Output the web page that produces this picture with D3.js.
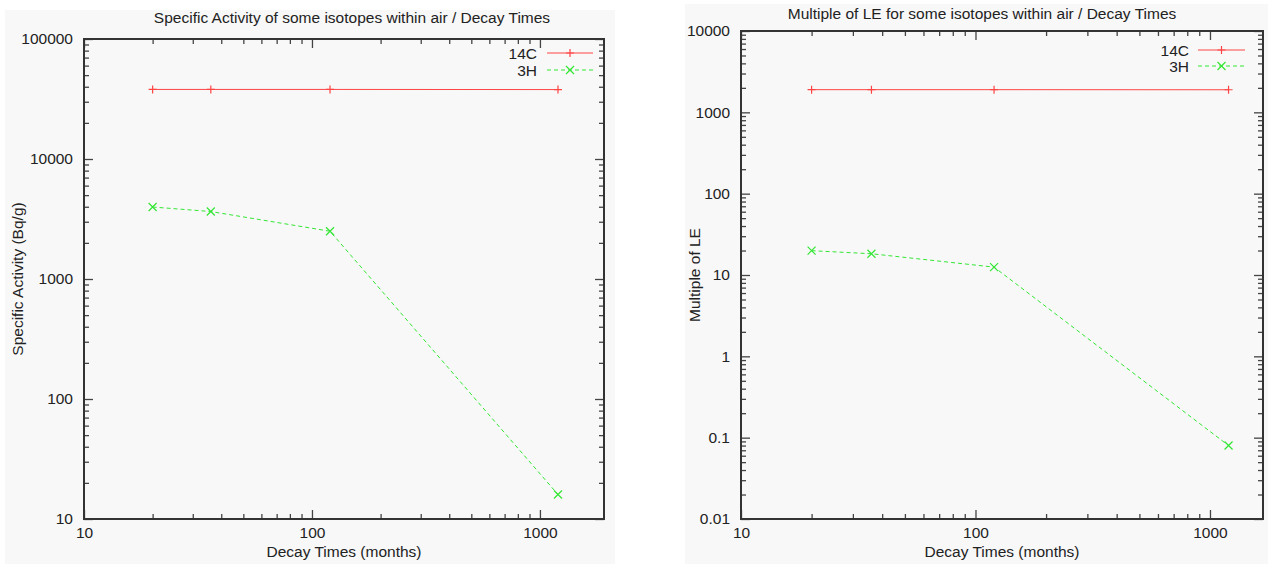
<!DOCTYPE html>
<html>
<head>
<meta charset="utf-8">
<script src="https://cdn.jsdelivr.net/npm/d3@7"></script>
<style>
  html, body { margin: 0; padding: 0; background: #ffffff; }
  svg text { font-family: "Liberation Sans", Arial, sans-serif; fill: #222; }
</style>
</head>
<body>
<div id="chart"></div>
<script>
// decay times in months (x values shared by both panels)
var decayMonths = [20, 36, 120, 1200];
var seriesNames = ['14C', '3H'];

// left panel: specific activity (Bq/g)
var activity14C = [38000, 38000, 38000, 37900];
var activity3H = [3980, 3650, 2500, 16];

// right panel: multiple of LE
var multiple14C = [1900, 1900, 1900, 1895];
var multiple3H = [19.9, 18.25, 12.5, 0.08];

var xTickValues = [10, 100, 1000];
var activityTicks = [10, 100, 1000, 10000, 100000];
var multipleTicks = [0.01, 0.1, 1, 10, 100, 1000, 10000];

var seriesColors = ['#ff4444', '#33e633'];
var fontSize = '15.5px';

var svg = d3.select('#chart')
    .append('svg')
    .attr('width', 1268)
    .attr('height', 564);

// minor ticks 2..9 for each decade between lo and hi
function minorTicks(lo, hi) {
    var out = [];
    for (var e = Math.floor(Math.log10(lo)); e < Math.ceil(Math.log10(hi)); e++) {
        for (var k = 2; k <= 9; k++) {
            var v = k * Math.pow(10, e);
            if (v > lo && v < hi) out.push(v);
        }
    }
    return out;
}

function fmt(v) {
    if (v >= 1) return d3.format('d')(v);
    return String(+v.toPrecision(2));
}

function drawPanel(p) {
    svg.append('rect')
        .attr('x', p.bg[0]).attr('y', p.bg[1])
        .attr('width', p.bg[2]).attr('height', p.bg[3])
        .attr('fill', '#f8f8f8');

    var w = p.right - p.left;
    var h = p.bottom - p.top;
    var g = svg.append('g').attr('transform', 'translate(' + p.left + ',' + p.top + ')');

    var x = d3.scaleLog().domain(p.xDomain).range([0, w]);
    var y = d3.scaleLog().domain(p.yDomain).range([h, 0]);

    var xMinor = minorTicks(p.xDomain[0], p.xDomain[1]);
    var yMinor = minorTicks(p.yDomain[0], p.yDomain[1]);

    function styleAxis(sel) {
        sel.select('.domain').remove();
        sel.selectAll('line').attr('stroke', '#444').attr('stroke-width', 1.3);
        sel.selectAll('text').style('font-size', fontSize).attr('fill', '#222');
    }

    // bottom + top ticks (inward)
    g.append('g').attr('transform', 'translate(0,' + h + ')')
        .call(d3.axisBottom(x).tickValues(xTickValues).tickSize(-9).tickPadding(8).tickFormat(fmt))
        .call(styleAxis);
    g.append('g').attr('transform', 'translate(0,' + h + ')')
        .call(d3.axisBottom(x).tickValues(xMinor).tickSize(-5).tickFormat(''))
        .call(styleAxis);
    g.append('g')
        .call(d3.axisTop(x).tickValues(xTickValues).tickSize(-9).tickFormat(''))
        .call(styleAxis);
    g.append('g')
        .call(d3.axisTop(x).tickValues(xMinor).tickSize(-5).tickFormat(''))
        .call(styleAxis);

    // left + right ticks (inward)
    g.append('g')
        .call(d3.axisLeft(y).tickValues(p.yTicks).tickSize(-9).tickPadding(11).tickFormat(fmt))
        .call(styleAxis);
    g.append('g')
        .call(d3.axisLeft(y).tickValues(yMinor).tickSize(-5).tickFormat(''))
        .call(styleAxis);
    g.append('g').attr('transform', 'translate(' + w + ',0)')
        .call(d3.axisRight(y).tickValues(p.yTicks).tickSize(-9).tickFormat(''))
        .call(styleAxis);
    g.append('g').attr('transform', 'translate(' + w + ',0)')
        .call(d3.axisRight(y).tickValues(yMinor).tickSize(-5).tickFormat(''))
        .call(styleAxis);

    // frame
    g.append('rect')
        .attr('width', w).attr('height', h)
        .attr('fill', 'none')
        .attr('stroke', '#333')
        .attr('stroke-width', 2);

    // series
    var line = d3.line()
        .x(function(d){ return x(d.x); })
        .y(function(d){ return y(d.y); });

    p.series.forEach(function(vals, si) {
        var pts = decayMonths.map(function(m, i){ return { x: m, y: vals[i] }; });
        var col = seriesColors[si];
        g.append('path')
            .datum(pts)
            .attr('fill', 'none')
            .attr('stroke', col)
            .attr('stroke-width', 1)
            .attr('stroke-dasharray', si === 1 ? '4,3' : null)
            .attr('d', line);
        pts.forEach(function(d) {
            drawMarker(g, x(d.x), y(d.y), si, col);
        });
    });

    // legend
    seriesNames.forEach(function(name, si) {
        var ly = p.legendY[si];
        var col = seriesColors[si];
        svg.append('text')
            .attr('x', p.legendX[0]).attr('y', ly + 5.5)
            .attr('text-anchor', 'end')
            .style('font-size', fontSize)
            .text(name);
        svg.append('line')
            .attr('x1', p.legendX[1]).attr('x2', p.legendX[2])
            .attr('y1', ly).attr('y2', ly)
            .attr('stroke', col).attr('stroke-width', 1)
            .attr('stroke-dasharray', si === 1 ? '4,3' : null);
        drawMarker(svg, (p.legendX[1] + p.legendX[2]) / 2, ly, si, col);
    });

    // titles
    svg.append('text')
        .attr('x', p.titleX).attr('y', p.titleY)
        .attr('text-anchor', 'middle')
        .style('font-size', fontSize)
        .text(p.title);

    svg.append('text')
        .attr('x', p.left + w / 2).attr('y', 557)
        .attr('text-anchor', 'middle')
        .style('font-size', fontSize)
        .text('Decay Times (months)');

    svg.append('text')
        .attr('transform', 'translate(' + p.yLabelX + ',' + (p.top + h / 2) + ') rotate(-90)')
        .attr('text-anchor', 'middle')
        .style('font-size', fontSize)
        .text(p.yLabel);
}

function drawMarker(parent, cx, cy, kind, col) {
    var s = 4;
    var path = kind === 0
        ? 'M' + (cx - s) + ',' + cy + 'H' + (cx + s) + 'M' + cx + ',' + (cy - s) + 'V' + (cy + s)
        : 'M' + (cx - s) + ',' + (cy - s) + 'L' + (cx + s) + ',' + (cy + s) + 'M' + (cx - s) + ',' + (cy + s) + 'L' + (cx + s) + ',' + (cy - s);
    parent.append('path')
        .attr('d', path)
        .attr('stroke', col)
        .attr('stroke-width', 1.2)
        .attr('fill', 'none');
}

drawPanel({
    bg: [5, 10, 610, 554],
    left: 84, right: 604, top: 39, bottom: 519,
    xDomain: [10, 1910],
    yDomain: [10, 100000],
    yTicks: activityTicks,
    series: [activity14C, activity3H],
    title: 'Specific Activity of some isotopes within air / Decay Times',
    titleX: 352, titleY: 23,
    yLabel: 'Specific Activity (Bq/g)',
    yLabelX: 23,
    legendX: [537, 547, 593],
    legendY: [53, 70]
});

drawPanel({
    bg: [685, 4, 583, 560],
    left: 741, right: 1263, top: 31, bottom: 519,
    xDomain: [10, 1683],
    yDomain: [0.01, 10000],
    yTicks: multipleTicks,
    series: [multiple14C, multiple3H],
    title: 'Multiple of LE for some isotopes within air / Decay Times',
    titleX: 982, titleY: 19,
    yLabel: 'Multiple of LE',
    yLabelX: 700,
    legendX: [1189, 1198, 1245],
    legendY: [50, 66]
});
</script>
</body>
</html>
